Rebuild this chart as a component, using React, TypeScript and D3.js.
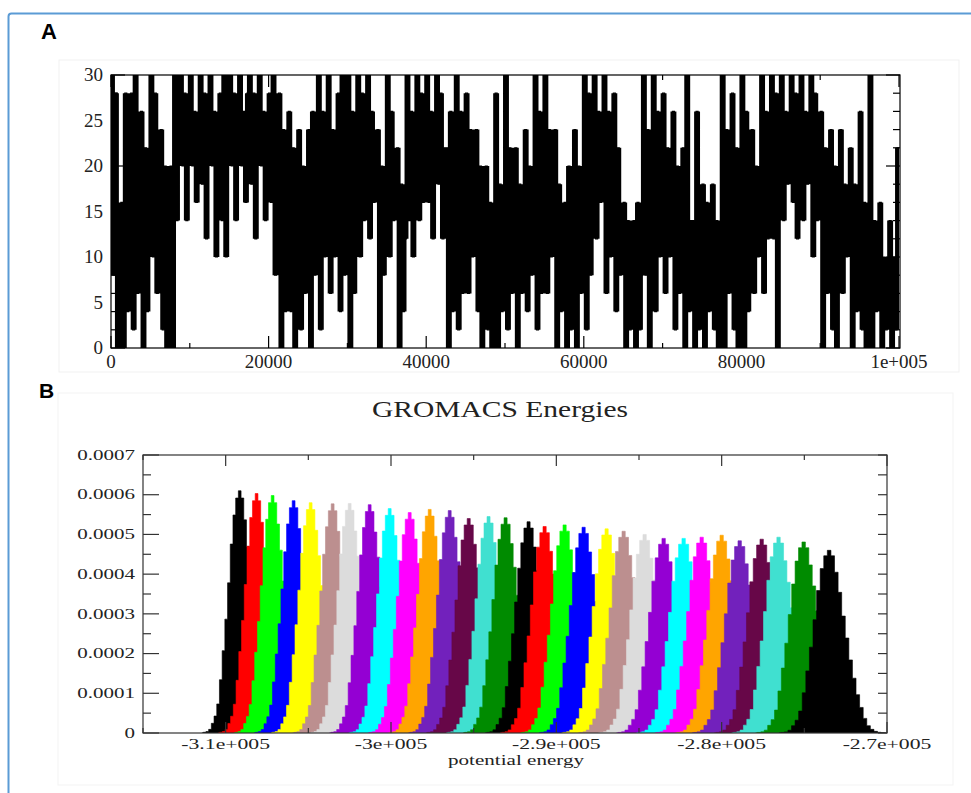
import React from 'react';
import * as d3 from 'd3';

// ---------- Panel A: replica index along the trajectory ----------
// Replica index sampled every 250 steps (0 .. 100000)
const replicaStep = 250;
const replicaIndex = [
  30, 8, 28, 0, 14, 16, 0, 28, 4, 12, 28, 2, 30, 6, 20, 26, 0, 22, 4, 18,
  30, 10, 28, 6, 16, 24, 2, 20, 0, 12, 20, 0, 30, 14, 26, 30, 20, 28, 14, 22,
  30, 20, 26, 16, 24, 30, 18, 28, 12, 22, 30, 20, 26, 10, 24, 28, 14, 30, 10, 22,
  30, 20, 28, 14, 24, 30, 20, 26, 16, 28, 30, 18, 28, 12, 22, 30, 20, 26, 14, 24,
  28, 16, 30, 8, 22, 28, 0, 24, 4, 18, 26, 4, 22, 0, 14, 24, 2, 20, 6, 16,
  24, 0, 26, 8, 18, 30, 2, 26, 10, 20, 30, 6, 24, 10, 18, 28, 4, 30, 8, 16,
  30, 0, 26, 6, 18, 30, 10, 28, 14, 22, 30, 12, 26, 16, 22, 24, 0, 20, 8, 14,
  30, 10, 26, 14, 20, 22, 0, 18, 4, 12, 30, 14, 26, 10, 22, 30, 14, 28, 16, 24,
  30, 16, 26, 12, 22, 30, 18, 28, 12, 22, 22, 0, 26, 4, 14, 30, 2, 26, 6, 18,
  28, 6, 24, 10, 20, 24, 4, 20, 0, 12, 20, 2, 16, 0, 10, 28, 0, 18, 4, 12,
  30, 2, 22, 6, 16, 22, 0, 18, 6, 12, 24, 4, 20, 8, 14, 30, 2, 26, 6, 18,
  30, 6, 24, 10, 20, 24, 0, 18, 4, 14, 16, 0, 20, 2, 10, 24, 0, 20, 6, 14,
  30, 2, 28, 8, 18, 30, 12, 26, 16, 22, 30, 6, 26, 10, 20, 28, 4, 22, 8, 14,
  16, 0, 14, 2, 8, 14, 0, 16, 2, 8, 30, 8, 24, 0, 14, 30, 4, 26, 10, 18,
  28, 6, 22, 10, 16, 26, 2, 20, 6, 12, 22, 0, 30, 4, 14, 14, 0, 26, 2, 8,
  18, 0, 16, 4, 10, 18, 2, 14, 0, 10, 30, 0, 24, 6, 16, 28, 2, 22, 0, 14,
  30, 0, 26, 4, 18, 24, 6, 20, 10, 16, 30, 6, 26, 12, 20, 30, 12, 28, 0, 20,
  30, 14, 26, 18, 22, 30, 16, 28, 12, 24, 30, 14, 26, 18, 22, 30, 10, 28, 14, 22,
  26, 0, 22, 6, 14, 24, 2, 20, 0, 12, 24, 6, 18, 10, 14, 22, 0, 18, 4, 12,
  26, 2, 16, 0, 10, 30, 0, 14, 4, 8, 16, 0, 10, 2, 6, 14, 0, 10, 2, 22,
  22,
];
const aXTicks = [0, 20000, 40000, 60000, 80000, 100000];
const aXTickLabels = ['0', '20000', '40000', '60000', '80000', '1e+005'];
const aYTicks = [0, 5, 10, 15, 20, 25, 30];

// ---------- Panel B: potential energy histograms ----------
const histColors = [
  '#000000', '#ff0000', '#00ff00', '#0000ff', '#ffff00', '#bc8f8f', '#dcdcdc', '#9400d3',
  '#00ffff', '#ff00ff', '#ffa500', '#7221bc', '#670748', '#40e0d0', '#008b00',
  '#000000', '#ff0000', '#00ff00', '#0000ff', '#ffff00', '#bc8f8f', '#dcdcdc', '#9400d3',
  '#00ffff', '#ff00ff', '#ffa500', '#7221bc', '#670748', '#40e0d0', '#008b00',
  '#000000',
];
// Centre of each replica's energy distribution
const histCenters = [
  -309150, -308130, -307160, -305890, -304860, -303530, -302500, -301290,
  -300080, -298870, -297660, -296450, -295300, -294100, -293070, -291680,
  -290710, -289500, -288350, -286960, -285930, -284660, -283510, -282300,
  -281210, -280000, -278910, -277580, -276560, -275040, -273500,
];
// Peak probability density of each distribution
const histPeaks = [
  0.00061, 0.000603, 0.000598, 0.000585, 0.00058, 0.000577, 0.000578, 0.000575,
  0.000565, 0.000555, 0.000563, 0.00056, 0.00054, 0.000545, 0.000542, 0.000532,
  0.00052, 0.000524, 0.000518, 0.000514, 0.000508, 0.0005, 0.00049, 0.00049,
  0.000493, 0.000498, 0.000484, 0.000488, 0.000493, 0.000481, 0.00046,
];
// Shared distribution shape: offsets in widths from the centre, relative height
const profileOffsets = [
  -3.5, -3.25, -3, -2.75, -2.5, -2.25, -2, -1.75, -1.5, -1.25, -1, -0.75, -0.5, -0.25, 0,
  0.25, 0.5, 0.75, 1, 1.25, 1.5, 1.75, 2, 2.25, 2.5, 2.75, 3, 3.25, 3.5, 3.75, 4,
];
const profileHeights = [
  0, 0.003, 0.006, 0.015, 0.04, 0.07, 0.12, 0.22, 0.34, 0.47, 0.62, 0.78, 0.9, 0.97, 1.0,
  0.97, 0.88, 0.77, 0.64, 0.52, 0.4, 0.3, 0.21, 0.14, 0.08, 0.04, 0.02, 0.009, 0.004, 0.001, 0,
];
const bXTicks = [-310000, -300000, -290000, -280000, -270000];
const bXTickLabels = ['-3.1e+005', '-3e+005', '-2.9e+005', '-2.8e+005', '-2.7e+005'];
const bYTicks = [0, 0.0001, 0.0002, 0.0003, 0.0004, 0.0005, 0.0006, 0.0007];
const bYTickLabels = ['0', '0.0001', '0.0002', '0.0003', '0.0004', '0.0005', '0.0006', '0.0007'];

const serif = '"Liberation Serif", "Times New Roman", serif';
const sans = '"Liberation Sans", Arial, sans-serif';

export default function App() {
  // Panel A scales
  const A = { left: 111, right: 900, top: 75, bottom: 348 };
  const xA = d3.scaleLinear().domain([0, 100000]).range([A.left, A.right - 1]);
  const yA = d3.scaleLinear().domain([0, 30]).range([A.bottom, A.top]);

  // Dense trajectory at screen resolution: each sample covers the span of
  // values visited around it (previous, current, next sample).
  const n = replicaIndex.length;
  const envelope = replicaIndex.map((v, i) => {
    const win = [replicaIndex[Math.max(0, i - 1)], v, replicaIndex[Math.min(n - 1, i + 1)]];
    return { i, lo: d3.min(win) as number, hi: d3.max(win) as number };
  });
  const replicaArea = d3
    .area<{ i: number; lo: number; hi: number }>()
    .x((d) => xA(d.i * replicaStep))
    .y0((d) => yA(d.lo))
    .y1((d) => yA(d.hi))
    .curve(d3.curveStepAfter);
  const replicaLine = d3
    .line<number>()
    .x((_, i) => xA(i * replicaStep))
    .y((v) => yA(v))
    .curve(d3.curveStepAfter);

  // Panel B scales
  const B = { left: 143, right: 887, top: 455, bottom: 733 };
  const xB = d3.scaleLinear().domain([-315000, -270000]).range([B.left, B.right]);
  const yB = d3.scaleLinear().domain([0, 0.0007]).range([B.bottom, B.top]);
  const histArea = d3
    .area<[number, number]>()
    .x((d) => xB(d[0]))
    .y0(B.bottom)
    .y1((d) => yB(d[1]))
    .curve(d3.curveStep);

  const aMinorY = yA.ticks(12);
  const aMinorX = xA.ticks(10);
  const bMinorY = yB.ticks(14);
  const bMinorX = xB.ticks(9);

  return (
    <svg
      width={971}
      height={793}
      style={{ position: 'absolute', left: 0, top: 0, background: '#fff' }}
    >
      <rect x={0} y={0} width={971} height={793} fill="#fff" />
      {/* outer frame */}
      <rect x={8.5} y={13.5} width={990} height={820} rx={3} fill="none" stroke="#5b9bd5" strokeWidth={2} />
      <rect x={59} y={60} width={900} height={312} fill="none" stroke="#f1f1f1" strokeWidth={1} />
      <rect x={58} y={393} width={895} height={392} fill="none" stroke="#f3f3f3" strokeWidth={1} />

      <text x={41} y={39} fontFamily={sans} fontWeight="bold" fontSize={22} fill="#000">A</text>
      <text x={39} y={398} fontFamily={sans} fontWeight="bold" fontSize={21} fill="#000">B</text>

      {/* ---- Panel A ---- */}
      <defs>
        <clipPath id="clipA">
          <rect x={A.left} y={A.top} width={A.right - A.left} height={A.bottom - A.top} />
        </clipPath>
        <clipPath id="clipB">
          <rect x={B.left} y={B.top} width={B.right - B.left} height={B.bottom - B.top} />
        </clipPath>
      </defs>
      <g clipPath="url(#clipA)">
        <path d={replicaArea(envelope) || ''} fill="#000" stroke="none" />
        <path d={replicaLine(replicaIndex) || ''} fill="none" stroke="#000" strokeWidth={1.2} />
      </g>
      <rect x={A.left} y={A.top} width={A.right - A.left} height={A.bottom - A.top} fill="none" stroke="#000" strokeWidth={1.2} />
      {aMinorY.map((v) => {
        const major = v % 5 === 0;
        const len = major ? 14 : 7;
        return (
          <g key={'ay' + v}>
            <line x1={A.left} x2={A.left + len} y1={yA(v)} y2={yA(v)} stroke="#000" strokeWidth={1.2} />
            <line x1={A.right} x2={A.right - len} y1={yA(v)} y2={yA(v)} stroke="#000" strokeWidth={1.2} />
          </g>
        );
      })}
      {aMinorX.map((v) => {
        const major = v % 20000 === 0;
        const len = major ? 12 : 5;
        return (
          <g key={'ax' + v}>
            <line x1={xA(v)} x2={xA(v)} y1={A.bottom} y2={A.bottom - len} stroke="#000" strokeWidth={1.2} />
            <line x1={xA(v)} x2={xA(v)} y1={A.top} y2={A.top + len} stroke="#000" strokeWidth={1.2} />
          </g>
        );
      })}
      {aYTicks.map((v) => (
        <text key={'ayl' + v} x={A.left - 8} y={yA(v)} dy="0.34em" textAnchor="end" fontFamily={serif} fontSize={19} fill="#222">
          {v}
        </text>
      ))}
      {aXTicks.map((v, i) => (
        <text key={'axl' + v} x={xA(v)} y={368} textAnchor="middle" fontFamily={serif} fontSize={19} fill="#222">
          {aXTickLabels[i]}
        </text>
      ))}

      {/* ---- Panel B ---- */}
      <text x={500} y={417} textAnchor="middle" fontFamily={serif} fontSize={23} textLength={256} lengthAdjust="spacingAndGlyphs" fill="#222">
        GROMACS Energies
      </text>
      <g clipPath="url(#clipB)">
        {histCenters.map((c, i) => {
          const peak = histPeaks[i];
          const width = 1 / (peak * Math.sqrt(2 * Math.PI));
          const pts: [number, number][] = profileOffsets.map((u, j) => [c + u * width, peak * profileHeights[j]]);
          return <path key={'h' + i} d={histArea(pts) || ''} fill={histColors[i]} stroke={histColors[i]} strokeWidth={0.6} />;
        })}
      </g>
      <rect x={B.left} y={B.top} width={B.right - B.left} height={B.bottom - B.top} fill="none" stroke="#333" strokeWidth={1.2} />
      {bMinorY.map((v, i) => {
        const major = i % 2 === 0;
        return (
          <g key={'by' + i}>
            <line x1={B.left} x2={B.left + (major ? 16 : 8)} y1={yB(v)} y2={yB(v)} stroke="#333" strokeWidth={1.2} />
            <line x1={B.right} x2={B.right - 9} y1={yB(v)} y2={yB(v)} stroke="#333" strokeWidth={1.2} />
          </g>
        );
      })}
      {bMinorX.map((v) => {
        const major = Math.abs(v % 10000) < 1;
        const len = major ? 11 : 5;
        return (
          <g key={'bx' + v}>
            <line x1={xB(v)} x2={xB(v)} y1={B.bottom} y2={B.bottom - len} stroke="#333" strokeWidth={1.2} />
            <line x1={xB(v)} x2={xB(v)} y1={B.top} y2={B.top + len} stroke="#333" strokeWidth={1.2} />
          </g>
        );
      })}
      {bYTicks.map((v, i) => (
        <g key={'byl' + i} transform={`translate(${B.left - 8},${yB(v)}) scale(1.5,1)`}>
          <text dy="0.34em" textAnchor="end" fontFamily={serif} fontSize={14} fill="#222">
            {bYTickLabels[i]}
          </text>
        </g>
      ))}
      {bXTicks.map((v, i) => (
        <g key={'bxl' + i} transform={`translate(${xB(v)},749) scale(1.55,1)`}>
          <text textAnchor="middle" fontFamily={serif} fontSize={14} fill="#222">
            {bXTickLabels[i]}
          </text>
        </g>
      ))}
      <text x={516} y={765} textAnchor="middle" fontFamily={serif} fontSize={15} textLength={136} lengthAdjust="spacingAndGlyphs" fill="#222">
        potential energy
      </text>
    </svg>
  );
}
